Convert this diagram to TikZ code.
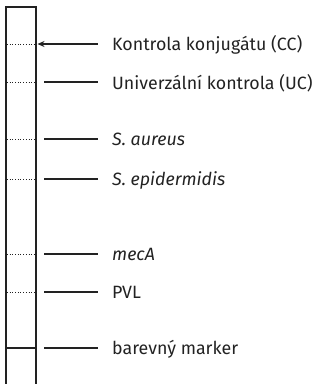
\documentclass[tikz,border=0pt]{standalone}
\usepackage{fontspec}
\setmainfont{Fira Sans}
\usetikzlibrary{arrows.meta}
\definecolor{ink}{HTML}{222222}
\begin{document}
\begin{tikzpicture}[x=1pt,y=-1pt,
  lbl/.style={anchor=base west,inner sep=0pt,font=\fontsize{17.8}{20}\selectfont,text=ink},
  band/.style={draw=ink,line width=0.7pt,dotted},
  conn/.style={draw=ink,line width=1.1pt},
  strip/.style={draw=ink,line width=1.1pt}]
\useasboundingbox (0,0) rectangle (320,384);
\draw[strip] (6,384) -- (6,7) -- (36,7) -- (36,384);
% bands
\foreach \n/\y in {cc/44,uc/82,sa/139,se/179,mec/254,pvl/292}{
  \coordinate (b\n l) at (7,\y);
  \coordinate (b\n r) at (35,\y);
  \draw[band] (b\n l) -- (b\n r);
}
\coordinate (bmkl) at (6,348);
\coordinate (bmkr) at (36,348);
\draw[draw=ink,line width=2pt] (bmkl) -- (bmkr);
% labels
\node[lbl] (cc) at (112,50.5) {Kontrola konjugátu (CC)};
\node[lbl] (uc) at (112,89) {Univerzální kontrola (UC)};
\node[lbl] (sa) at (112,145.5) {\textit{S. aureus}};
\node[lbl] (se) at (112,185.5) {\textit{S. epidermidis}};
\node[lbl] (mec) at (112,260.5) {\textit{mecA}};
\node[lbl] (pvl) at (112,298.5) {PVL};
\node[lbl] (mk) at (112,354) {barevný marker};
% connectors
\coordinate (ccs) at (97.5,44);
\draw[conn,-{Stealth[length=7pt,width=6pt]}] (ccs) -- (bccr -| 37.5,0);
\foreach \n/\y in {uc/82,sa/139,se/179,mec/254,pvl/292,mk/348}{
  \coordinate (s\n) at (44,\y);
  \coordinate (e\n) at (97.5,\y);
  \draw[conn] (s\n) -- (e\n);
}
\end{tikzpicture}
\end{document}
